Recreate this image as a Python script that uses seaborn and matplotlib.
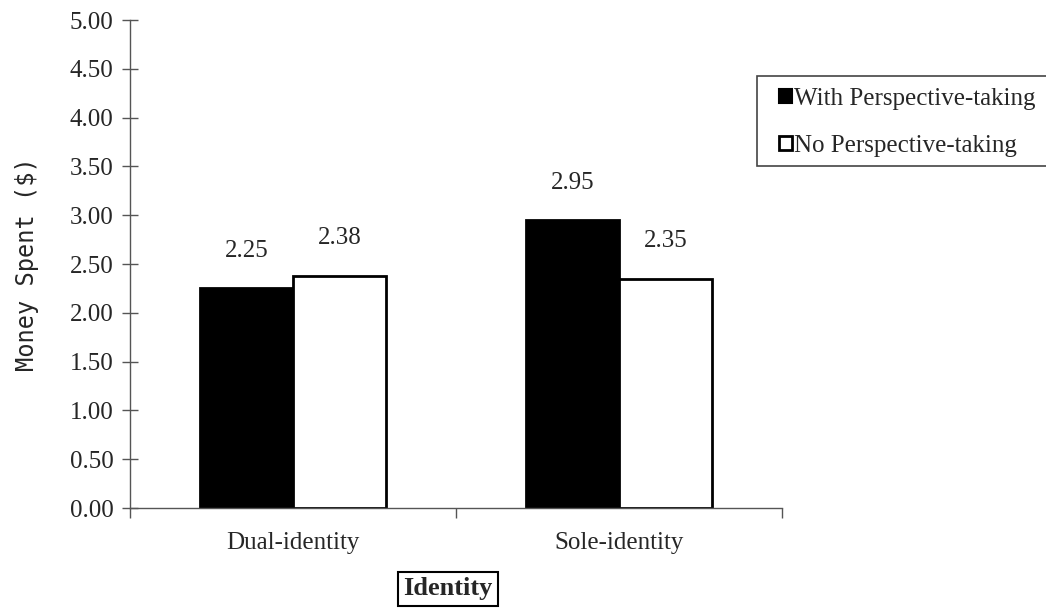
import pandas as pd
import seaborn as sns
import matplotlib.pyplot as plt
from matplotlib.ticker import FixedLocator
from matplotlib.patches import Patch, Rectangle

categories = ['Dual-identity', 'Sole-identity']
with_pt = [2.25, 2.95]
no_pt = [2.38, 2.35]
series = ['With Perspective-taking', 'No Perspective-taking']

df = pd.DataFrame({
    'Identity': categories * 2,
    'Money': with_pt + no_pt,
    'Condition': [series[0]] * 2 + [series[1]] * 2,
})

sns.set_style('white')
plt.rcParams['font.family'] = ['Liberation Serif', 'DejaVu Serif']

fig = plt.figure(figsize=(10.46, 6.14), dpi=100)
ax = fig.add_axes([0.1243, 0.1726, 0.6233, 0.7948])

sns.barplot(df, x='Identity', y='Money', hue='Condition', hue_order=series,
            palette=['black', 'white'], edgecolor='black', linewidth=2,
            width=0.57, ax=ax, legend=False)

for container in ax.containers:
    ax.bar_label(container, fmt='%.2f', padding=19, fontsize=18)

ax.set_ylim(0, 5)
ax.set_xlim(-0.5, 1.5)
ax.set_yticks([i * 0.5 for i in range(11)])
ax.set_yticklabels([f'{i * 0.5:.2f}' for i in range(11)], fontsize=18)
ax.tick_params(axis='y', direction='inout', length=12, width=1, color='#555555', left=True, pad=6)
ax.tick_params(axis='x', which='major', length=0, labelsize=18, pad=17)
ax.xaxis.set_minor_locator(FixedLocator([-0.5, 0.5, 1.5]))
ax.tick_params(axis='x', which='minor', direction='out', length=7, width=1, color='#555555', bottom=True)

for s in ['top', 'right']:
    ax.spines[s].set_visible(False)
for s in ['left', 'bottom']:
    ax.spines[s].set_color('#555555')
    ax.spines[s].set_linewidth(1)

ax.set_ylabel('Money Spent ($)', family='DejaVu Sans Mono', fontsize=17, labelpad=22)
ax.set_xlabel('Identity', fontsize=19, fontweight='bold',
              bbox=dict(boxstyle='square,pad=0.2', facecolor='white', edgecolor='black', linewidth=1.5))
ax.xaxis.set_label_coords(0.488, -0.142)

# legend box, partly cut off at the right edge as in the source
fig.patches.append(Rectangle((757 / 1046, 1 - 166 / 614), 300 / 1046, 90 / 614,
                             transform=fig.transFigure, facecolor='white',
                             edgecolor='#444444', linewidth=1.2, zorder=0))
handles = [Patch(facecolor='black', edgecolor='black', linewidth=1.5),
           Patch(facecolor='white', edgecolor='black', linewidth=2)]
fig.legend(handles, series, loc='upper left', bbox_to_anchor=(779 / 1046, 1 - 88 / 614),
           fontsize=18, frameon=False, handlelength=0.5, handleheight=0.5,
           handletextpad=0.1, borderpad=0, labelspacing=1.0, borderaxespad=0)

fig.savefig('out.png', dpi=100)
